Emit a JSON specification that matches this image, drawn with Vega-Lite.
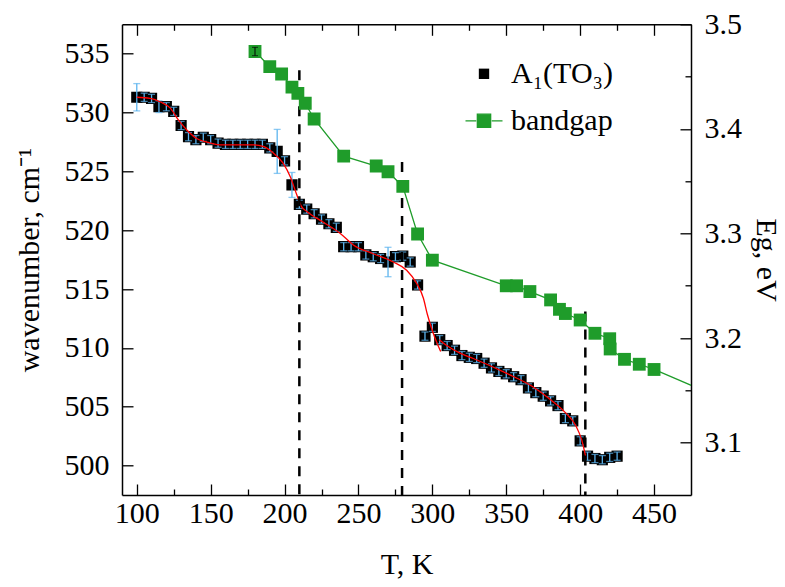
{
  "$schema": "https://vega.github.io/schema/vega-lite/v6.json",
  "width": 569,
  "height": 470.7,
  "autosize": {"type": "none"},
  "padding": {"left": 122, "top": 24.3, "right": 94, "bottom": 92},
  "background": "white",
  "config": {
    "font": "Liberation Serif",
    "view": {"stroke": null},
    "axis": {
      "labelFont": "Liberation Serif",
      "labelFontSize": 30,
      "labelColor": "black",
      "titleFont": "Liberation Serif",
      "titleFontSize": 30,
      "titleFontWeight": "normal",
      "titleColor": "black",
      "domainColor": "black",
      "domainWidth": 1.5,
      "tickColor": "black",
      "tickWidth": 1.3,
      "grid": false,
      "labelOverlap": false,
      "labelFlush": false
    }
  },
  "datasets": {
    "wave": [
      {"T": 100, "w": 531.3, "err": 1.16},
      {"T": 105, "w": 531.3, "err": 0.35},
      {"T": 110, "w": 531.2, "err": 0.35},
      {"T": 115, "w": 530.5, "err": 0.5},
      {"T": 120, "w": 530.5, "err": 0.35},
      {"T": 125, "w": 530.1, "err": 0.35},
      {"T": 130, "w": 528.9, "err": 0.35},
      {"T": 135, "w": 527.95, "err": 0.35},
      {"T": 140, "w": 527.7, "err": 0.35},
      {"T": 145, "w": 527.9, "err": 0.35},
      {"T": 150, "w": 527.7, "err": 0.35},
      {"T": 155, "w": 527.4, "err": 0.35},
      {"T": 160, "w": 527.3, "err": 0.35},
      {"T": 165, "w": 527.3, "err": 0.35},
      {"T": 170, "w": 527.3, "err": 0.35},
      {"T": 175, "w": 527.3, "err": 0.35},
      {"T": 180, "w": 527.3, "err": 0.35},
      {"T": 185, "w": 527.3, "err": 0.35},
      {"T": 190, "w": 527.0, "err": 0.35},
      {"T": 195, "w": 526.7, "err": 1.87},
      {"T": 200, "w": 525.9, "err": 0.35},
      {"T": 205, "w": 523.85, "err": 1.06},
      {"T": 210, "w": 522.2, "err": 0.35},
      {"T": 215, "w": 521.8, "err": 0.35},
      {"T": 220, "w": 521.4, "err": 0.35},
      {"T": 225, "w": 520.95, "err": 0.35},
      {"T": 230, "w": 520.55, "err": 0.35},
      {"T": 235, "w": 520.25, "err": 0.35},
      {"T": 240, "w": 518.6, "err": 0.35},
      {"T": 245, "w": 518.6, "err": 0.35},
      {"T": 250, "w": 518.6, "err": 0.35},
      {"T": 255, "w": 517.9, "err": 0.35},
      {"T": 260, "w": 517.75, "err": 0.35},
      {"T": 265, "w": 517.6, "err": 0.35},
      {"T": 270, "w": 517.3, "err": 1.25},
      {"T": 275, "w": 517.75, "err": 0.35},
      {"T": 280, "w": 517.8, "err": 0.35},
      {"T": 285, "w": 517.3, "err": 0.35},
      {"T": 290, "w": 515.35, "err": 0.35},
      {"T": 295, "w": 511.0, "err": 0.35},
      {"T": 300, "w": 511.75, "err": 0.35},
      {"T": 305, "w": 510.7, "err": 0.35},
      {"T": 310, "w": 510.2, "err": 0.35},
      {"T": 315, "w": 509.8, "err": 0.35},
      {"T": 320, "w": 509.35, "err": 0.35},
      {"T": 325, "w": 509.2, "err": 0.35},
      {"T": 330, "w": 509.1, "err": 0.35},
      {"T": 335, "w": 508.7, "err": 0.35},
      {"T": 340, "w": 508.3, "err": 0.35},
      {"T": 345, "w": 508.0, "err": 0.35},
      {"T": 350, "w": 507.8, "err": 0.35},
      {"T": 355, "w": 507.55, "err": 0.35},
      {"T": 360, "w": 507.3, "err": 0.35},
      {"T": 365, "w": 506.6, "err": 0.35},
      {"T": 370, "w": 506.2, "err": 0.35},
      {"T": 375, "w": 505.9, "err": 0.35},
      {"T": 380, "w": 505.5, "err": 0.35},
      {"T": 385, "w": 505.1, "err": 0.35},
      {"T": 390, "w": 504.0, "err": 0.35},
      {"T": 395, "w": 503.8, "err": 0.35},
      {"T": 400, "w": 502.1, "err": 0.35},
      {"T": 405, "w": 500.8, "err": 0.35},
      {"T": 410, "w": 500.6, "err": 0.35},
      {"T": 415, "w": 500.5, "err": 0.35},
      {"T": 420, "w": 500.7, "err": 0.35},
      {"T": 425, "w": 500.8, "err": 0.35}
    ],
    "fit": [
      {"seg": 1, "T": 100, "w": 531.3},
      {"seg": 1, "T": 109, "w": 531.2},
      {"seg": 1, "T": 116, "w": 530.9},
      {"seg": 1, "T": 122.5, "w": 530.4},
      {"seg": 1, "T": 128, "w": 529.4},
      {"seg": 1, "T": 134, "w": 528.5},
      {"seg": 1, "T": 140.5, "w": 527.8},
      {"seg": 1, "T": 147, "w": 527.5},
      {"seg": 1, "T": 156, "w": 527.25},
      {"seg": 1, "T": 179, "w": 527.25},
      {"seg": 1, "T": 186, "w": 527.1},
      {"seg": 1, "T": 192, "w": 526.6},
      {"seg": 1, "T": 199, "w": 525.7},
      {"seg": 1, "T": 204, "w": 524.5},
      {"seg": 1, "T": 208, "w": 523.1},
      {"seg": 1, "T": 211.5, "w": 522.0},
      {"seg": 1, "T": 215, "w": 521.6},
      {"seg": 1, "T": 226, "w": 520.7},
      {"seg": 1, "T": 237.5, "w": 519.75},
      {"seg": 1, "T": 246.5, "w": 518.75},
      {"seg": 1, "T": 260, "w": 518.0},
      {"seg": 1, "T": 273.6, "w": 517.3},
      {"seg": 1, "T": 282.6, "w": 516.6},
      {"seg": 1, "T": 289.3, "w": 515.5},
      {"seg": 1, "T": 294, "w": 514.2},
      {"seg": 1, "T": 296.5, "w": 512.9},
      {"seg": 1, "T": 300.6, "w": 511.25},
      {"seg": 1, "T": 305.6, "w": 509.7},
      {"seg": 2, "T": 304.7, "w": 510.7},
      {"seg": 2, "T": 309.7, "w": 510.2},
      {"seg": 2, "T": 318.7, "w": 509.55},
      {"seg": 2, "T": 327.7, "w": 509.1},
      {"seg": 2, "T": 350, "w": 507.85},
      {"seg": 2, "T": 368, "w": 506.7},
      {"seg": 2, "T": 380, "w": 505.6},
      {"seg": 2, "T": 390, "w": 504.5},
      {"seg": 2, "T": 397, "w": 503.4},
      {"seg": 2, "T": 401, "w": 502.2},
      {"seg": 2, "T": 404, "w": 500.6}
    ],
    "dash": [
      {"T": 210, "top": 533.6},
      {"T": 279.5, "top": 525.8},
      {"T": 403.5, "top": 513.1}
    ],
    "gap": [
      {"T": 180, "E": 3.474, "err": 0.004},
      {"T": 190, "E": 3.4595, "err": 0},
      {"T": 198, "E": 3.4525, "err": 0},
      {"T": 205, "E": 3.44, "err": 0},
      {"T": 209, "E": 3.434, "err": 0},
      {"T": 214, "E": 3.4245, "err": 0},
      {"T": 220, "E": 3.4095, "err": 0},
      {"T": 240, "E": 3.374, "err": 0},
      {"T": 262, "E": 3.3645, "err": 0},
      {"T": 270, "E": 3.359, "err": 0},
      {"T": 280, "E": 3.345, "err": 0},
      {"T": 290, "E": 3.2995, "err": 0},
      {"T": 300, "E": 3.2745, "err": 0},
      {"T": 350, "E": 3.25, "err": 0},
      {"T": 357, "E": 3.25, "err": 0},
      {"T": 366, "E": 3.2445, "err": 0},
      {"T": 380, "E": 3.2365, "err": 0},
      {"T": 386, "E": 3.2275, "err": 0},
      {"T": 390, "E": 3.2235, "err": 0},
      {"T": 400, "E": 3.2173, "err": 0},
      {"T": 410, "E": 3.2046, "err": 0},
      {"T": 420, "E": 3.1994, "err": 0},
      {"T": 420.3, "E": 3.1896, "err": 0},
      {"T": 430, "E": 3.1797, "err": 0},
      {"T": 440, "E": 3.175, "err": 0},
      {"T": 450, "E": 3.17, "err": 0},
      {"T": 490, "E": 3.146, "err": 0}
    ]
  },
  "layer": [
    {
      "layer": [
        {
          "data": {"name": "wave"},
          "mark": {"type": "square", "size": 125, "filled": true, "opacity": 1, "clip": true},
          "encoding": {
            "x": {
              "field": "T", "type": "quantitative", "title": "T, K",
              "scale": {"domain": [90, 475], "nice": false, "zero": false},
              "axis": {
                "orient": "bottom",
                "title": "T, K",
                "values": [100, 125, 150, 175, 200, 225, 250, 275, 300, 325, 350, 375, 400, 425, 450],
                "labelExpr": "datum.value % 50 === 0 ? datum.label : ''",
                "tickSize": {"condition": {"test": "datum.value % 50 === 0", "value": -11}, "value": -6},
                "labelPadding": 14,
                "titlePadding": 16
              }
            },
            "y": {
              "field": "w", "type": "quantitative", "title": "wavenumber, cm⁻¹",
              "scale": {"domain": [497.5, 537.5], "nice": false, "zero": false},
              "axis": {
                "orient": "left",
                "title": "wavenumber, cm⁻¹",
                "values": [500, 502.5, 505, 507.5, 510, 512.5, 515, 517.5, 520, 522.5, 525, 527.5, 530, 532.5, 535],
                "labelExpr": "datum.value % 5 === 0 ? format(datum.value, 'd') : ''",
                "tickSize": {"condition": {"test": "datum.value % 5 === 0", "value": -11}, "value": -6},
                "labelPadding": 24,
                "titlePadding": 20
              }
            },
            "color": {
              "datum": "A₁(TO₃)", "type": "nominal",
              "scale": {"domain": ["A₁(TO₃)", "bandgap"], "range": ["#000000", "#1f9c2a"]},
              "legend": {
                "orient": "none",
                "legendX": 342.5,
                "legendY": 30,
                "title": null,
                "padding": 0,
                "labelFont": "Liberation Serif",
                "labelFontSize": 30,
                "labelColor": "black",
                "labelOffset": 7.5,
                "labelLimit": 0,
                "symbolSize": 1369,
                "rowPadding": 12,
                "symbolStrokeWidth": 1.3,
                "symbolOpacity": 1,
                "encode": {
                  "symbols": {
                    "update": {
                      "shape": {"signal": "datum.value === 'bandgap' ? 'M-1,0H-0.42M0.42,0H1M-0.36,-0.36H0.36V0.36H-0.36Z' : 'M-0.28,-0.28H0.28V0.28H-0.28Z'"},
                      "stroke": {"signal": "datum.value === 'bandgap' ? '#1f9c2a' : 'transparent'"},
                      "fill": {"signal": "datum.value === 'bandgap' ? '#1f9c2a' : '#000000'"}
                    }
                  }
                }
              }
            }
          }
        },
        {
          "data": {"name": "wave"},
          "mark": {"type": "errorbar", "ticks": {"size": 7, "color": "#5cb4ee", "thickness": 1.3}, "color": "#5cb4ee", "thickness": 1.3},
          "encoding": {
            "x": {"field": "T", "type": "quantitative", "title": "T, K"},
            "y": {"field": "w", "type": "quantitative", "title": "wavenumber, cm⁻¹"},
            "yError": {"field": "err"}
          }
        },
        {
          "data": {"name": "fit"},
          "mark": {"type": "line", "color": "#ff0000", "strokeWidth": 1.3, "interpolate": "monotone"},
          "encoding": {
            "x": {"field": "T", "type": "quantitative", "title": "T, K"},
            "y": {"field": "w", "type": "quantitative", "title": "wavenumber, cm⁻¹"},
            "detail": {"field": "seg", "type": "nominal"}
          }
        },
        {
          "data": {"name": "dash"},
          "mark": {"type": "rule", "color": "black", "strokeWidth": 2.5, "strokeDash": [10, 8]},
          "encoding": {
            "x": {"field": "T", "type": "quantitative", "title": "T, K"},
            "y": {"field": "top", "type": "quantitative", "title": "wavenumber, cm⁻¹"},
            "y2": {"datum": 497.5}
          }
        }
      ]
    },
    {
      "layer": [
        {
          "data": {"name": "gap"},
          "mark": {"type": "line", "color": "#1f9c2a", "strokeWidth": 1.3, "clip": true},
          "encoding": {
            "x": {
              "field": "T", "type": "quantitative", "title": null,
              "scale": {"domain": [90, 475], "nice": false, "zero": false},
              "axis": {
                "orient": "top",
                "title": null,
                "labels": false,
                "values": [100, 125, 150, 175, 200, 225, 250, 275, 300, 325, 350, 375, 400, 425, 450],
                "tickSize": {"condition": {"test": "datum.value % 50 === 0", "value": -11}, "value": -6}
              }
            },
            "y": {
              "field": "E", "type": "quantitative", "title": "Eg, eV",
              "scale": {"domain": [3.05, 3.5], "nice": false, "zero": false},
              "axis": {
                "orient": "right",
                "title": "Eg, eV",
                "values": [3.1, 3.15, 3.2, 3.25, 3.3, 3.35, 3.4, 3.45, 3.5],
                "labelExpr": "abs(datum.value * 10 - round(datum.value * 10)) < 0.001 ? format(datum.value, '.1f') : ''",
                "tickSize": {"condition": {"test": "abs(datum.value * 10 - round(datum.value * 10)) < 0.001", "value": -11}, "value": -6},
                "labelPadding": 24,
                "titlePadding": 9
              }
            }
          }
        },
        {
          "data": {"name": "gap"},
          "mark": {"type": "square", "size": 165, "filled": true, "opacity": 1, "clip": true},
          "encoding": {
            "x": {"field": "T", "type": "quantitative", "title": null},
            "y": {"field": "E", "type": "quantitative", "title": "Eg, eV"},
            "color": {"datum": "bandgap", "type": "nominal"}
          }
        },
        {
          "data": {"name": "gap"},
          "transform": [{"filter": "datum.err > 0"}],
          "mark": {"type": "errorbar", "ticks": {"size": 6, "color": "black", "thickness": 1}, "color": "black", "thickness": 1},
          "encoding": {
            "x": {"field": "T", "type": "quantitative", "title": null},
            "y": {"field": "E", "type": "quantitative", "title": "Eg, eV"},
            "yError": {"field": "err"}
          }
        }
      ]
    }
  ],
  "resolve": {"scale": {"y": "independent"}, "axis": {"x": "independent"}}
}
